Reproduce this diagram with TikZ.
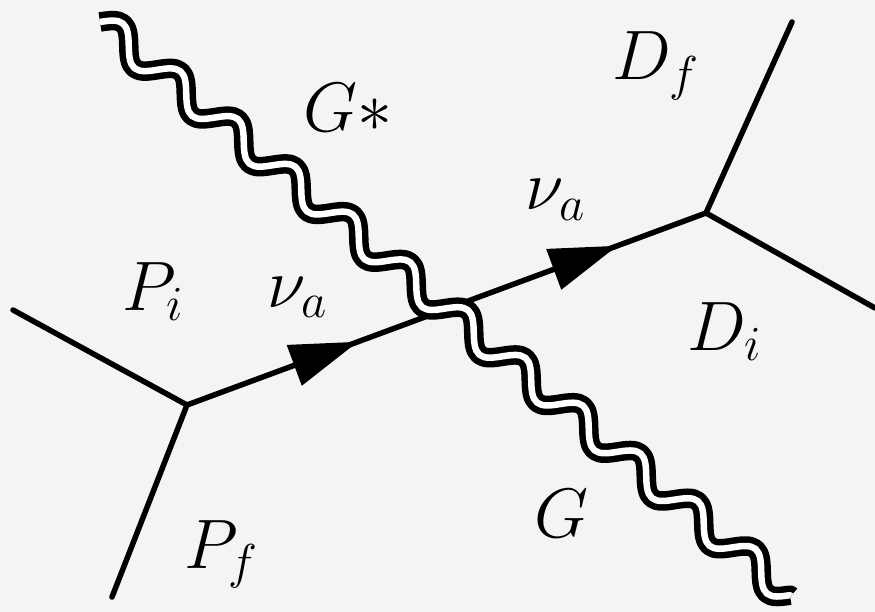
\RequirePackage{fix-cm}
\documentclass[tikz,border=0pt]{standalone}
\usetikzlibrary{decorations.markings,arrows.meta,calc}
\definecolor{bgc}{RGB}{244,244,244}
\pgfdeclaredecoration{gwave}{initial}{%
  \state{initial}[width=\pgfdecorationsegmentlength]{%
    \pgfpathcurveto{\pgfpoint{0.07958\pgfdecorationsegmentlength}{0.5\pgfdecorationsegmentamplitude}}%
                   {\pgfpoint{0.15876\pgfdecorationsegmentlength}{\pgfdecorationsegmentamplitude}}%
                   {\pgfpoint{0.25\pgfdecorationsegmentlength}{\pgfdecorationsegmentamplitude}}%
    \pgfpathcurveto{\pgfpoint{0.34124\pgfdecorationsegmentlength}{\pgfdecorationsegmentamplitude}}%
                   {\pgfpoint{0.42042\pgfdecorationsegmentlength}{0.5\pgfdecorationsegmentamplitude}}%
                   {\pgfpoint{0.5\pgfdecorationsegmentlength}{0pt}}%
    \pgfpathcurveto{\pgfpoint{0.57958\pgfdecorationsegmentlength}{-0.5\pgfdecorationsegmentamplitude}}%
                   {\pgfpoint{0.65876\pgfdecorationsegmentlength}{-\pgfdecorationsegmentamplitude}}%
                   {\pgfpoint{0.75\pgfdecorationsegmentlength}{-\pgfdecorationsegmentamplitude}}%
    \pgfpathcurveto{\pgfpoint{0.84124\pgfdecorationsegmentlength}{-\pgfdecorationsegmentamplitude}}%
                   {\pgfpoint{0.92042\pgfdecorationsegmentlength}{-0.5\pgfdecorationsegmentamplitude}}%
                   {\pgfpoint{\pgfdecorationsegmentlength}{0pt}}%
  }%
  \state{final}{\pgfpathlineto{\pgfpointdecoratedpathlast}}%
}
\tikzset{
  fermion/.style={line width=5.5pt, line cap=round, line join=round},
  farrow/.style={postaction={decorate},
    decoration={markings, mark=at position #1 with {\arrow{Triangle[length=68pt,width=42pt]}}}},
  graviton/.style={decorate, decoration={gwave, segment length=74.75pt, amplitude=13.5pt},
    line width=6.5pt, double=white, double distance=6.5pt, line join=round},
  lbl/.style={anchor=base west, inner sep=0pt, font=\fontsize{70}{84}\selectfont},
}
\begin{document}
\begin{tikzpicture}[x=1pt,y=-1pt]
\useasboundingbox (0,0) rectangle (875,612);
\fill[bgc] (0,0) rectangle (875,612);
% vertices and free ends
\coordinate (v1) at (187,405);
\coordinate (v2) at (706,213);
\coordinate (m) at ($(v1)!0.5!(v2)$);
\coordinate (epi) at (13,310);
\coordinate (epf) at (112,597);
\coordinate (edf) at (792,22);
\coordinate (edi) at (875,308);
\coordinate (gs) at (100,22);
\coordinate (ge) at (791,596);
% external lines
\draw[fermion] (epi) -- (v1);
\draw[fermion] (v1) -- (epf);
\draw[fermion] (v2) -- (edf);
\draw[fermion] (v2) -- (edi);
% internal fermion with arrows
\draw[fermion, farrow=0.659] (v1) -- (m);
\draw[fermion, farrow=0.659] (m) -- (v2);
% graviton
\draw[graviton] (gs) -- (ge);
% labels
\node[lbl] (lgs) at (303,132) {$G*$};
\node[lbl] (ldf) at (612,80) {$D_f$};
\node[lbl] (lnu1) at (267,307) {$\nu_a$};
\node[lbl] (lnu2) at (525,210) {$\nu_a$};
\node[lbl] (ldi) at (687,350) {$D_i$};
\node[lbl] (lg) at (534,537) {$G$};
\node[lbl] (lpf) at (184,568) {$P_f$};
\node[lbl] (lpi) at (122,310) {$P_i$};
\end{tikzpicture}
\end{document}
